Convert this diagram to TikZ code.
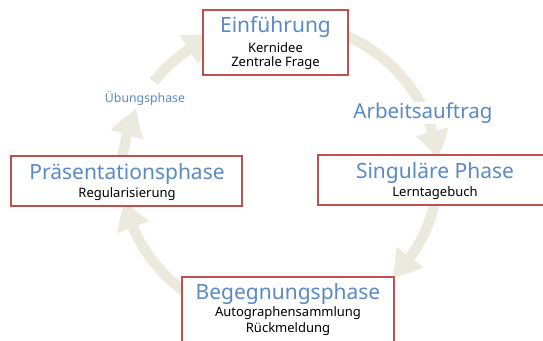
\documentclass[tikz,border=0pt]{standalone}
\usepackage{fontspec}
\setmainfont{Noto Sans}
\usetikzlibrary{arrows.meta,bending}
\definecolor{boxred}{HTML}{C0504D}
\definecolor{titleblue}{HTML}{5A8AC6}
\definecolor{cyclebeige}{HTML}{ECE9DE}
\tikzset{
  phasebox/.style={draw=boxred,line width=2.6pt,fill=white},
  phasetitle/.style={text=titleblue,font=\fontsize{21}{24}\selectfont,inner sep=0pt},
  phasesub/.style={text=black,font=\fontsize{13}{15}\selectfont,inner sep=0pt},
  cyclearrow/.style={draw=cyclebeige,line width=10.5pt,-{Triangle[width=32pt,length=28pt,bend]}},
  steplabel/.style={text=titleblue,fill=white,inner sep=1pt},
}
\begin{document}
\begin{tikzpicture}[x=1pt,y=1pt]
\useasboundingbox (0,0) rectangle (543,340);
\coordinate (c) at (280,168);
% cycle arrows
\draw[cyclearrow] (c) ++(75:158 and 150) arc[start angle=75,end angle=5,x radius=158,y radius=150];
\draw[cyclearrow] (c) ++(-5:158 and 150) arc[start angle=-5,end angle=-45,x radius=158,y radius=150];
\draw[cyclearrow] (c) ++(-105:158 and 150) arc[start angle=-105,end angle=-169,x radius=158,y radius=150];
\draw[cyclearrow] (c) ++(178:158 and 150) arc[start angle=178,end angle=155,x radius=158,y radius=150];
\draw[cyclearrow] (c) ++(143:158 and 150) arc[start angle=143,end angle=115,x radius=158,y radius=150];
% labels on the cycle
\node[steplabel,font=\fontsize{20.5}{24}\selectfont] (arb) at (423,227) {Arbeitsauftrag};
\node[steplabel,font=\fontsize{12.3}{14}\selectfont] (ueb) at (145,242) {Übungsphase};
% boxes
\path[phasebox] (203,265) rectangle (348,330);
\node[phasetitle] (einf) at (275.5,313) {Einführung};
\node[phasesub] (einf1) at (275.5,292) {Kernidee};
\node[phasesub] (einf2) at (275.5,277) {Zentrale Frage};

\path[phasebox] (318,135) rectangle (549,185);
\node[phasetitle] (sing) at (435,166.5) {Singuläre Phase};
\node[phasesub] (sing1) at (435,147) {Lerntagebuch};

\path[phasebox] (11,134) rectangle (242,184);
\node[phasetitle] (praes) at (127,165.5) {Präsentationsphase};
\node[phasesub] (praes1) at (127,146) {Regularisierung};

\path[phasebox] (182,-5) rectangle (394,63);
\node[phasetitle] (beg) at (288,45.5) {Begegnungsphase};
\node[phasesub] (beg1) at (288,27) {Autographensammlung};
\node[phasesub] (beg2) at (288,11) {Rückmeldung};
\end{tikzpicture}
\end{document}
